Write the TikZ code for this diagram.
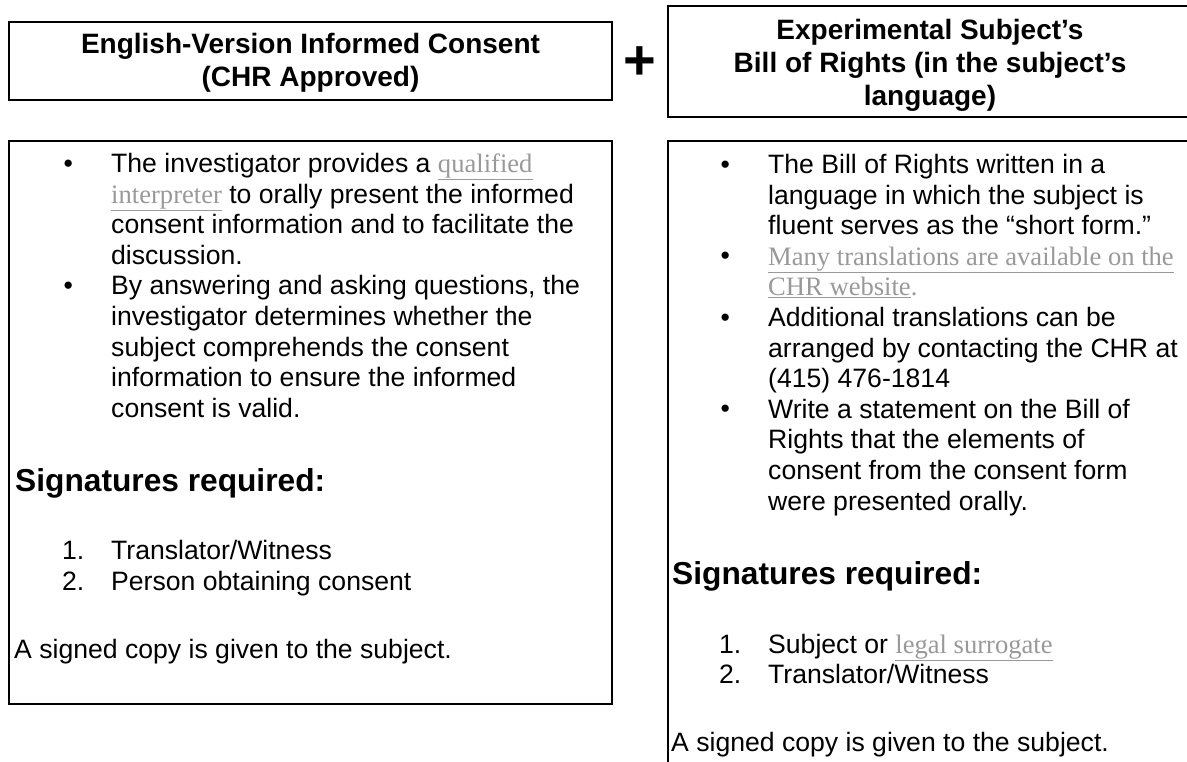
\documentclass[tikz,border=0pt]{standalone}
\usepackage{fontspec}
\setmainfont{Liberation Sans}
\newfontfamily\linkfont{Liberation Serif}
\definecolor{linkgray}{gray}{0.6}
\newcommand{\lnk}[1]{{\linkfont\color{linkgray}\underline{#1}}}
\newcommand{\bodyfont}{\fontsize{26.6}{30.6}\selectfont}
\newcommand{\headfont}{\fontsize{28}{33}\selectfont\bfseries}
\newcommand{\sigfont}{\fontsize{31.7}{36}\selectfont\bfseries}
\tikzstyle{frame}=[draw, line width=2pt]
\tikzstyle{title}=[align=center, inner sep=0pt, font=\headfont]
\tikzstyle{para}=[anchor=north west, align=left, inner sep=0pt, font=\bodyfont]
\tikzstyle{line}=[anchor=base west, inner sep=0pt, font=\bodyfont]
\tikzstyle{sig}=[anchor=base west, inner sep=0pt, font=\sigfont]

\begin{document}
\begin{tikzpicture}[x=1pt, y=-1pt]
\useasboundingbox (0,0) rectangle (1187,761);
% headers
\draw[frame] (9,22) rectangle (612,100);
\draw[frame] (668,6) rectangle (1191,117);
\node[title] (lhead) at (310.5,63) {English-Version Informed Consent\\(CHR Approved)};
\node[title] (rhead) at (930,65) {Experimental Subject’s\\Bill of Rights (in the subject’s\\language)};
\node[font=\fontsize{56}{56}\selectfont\bfseries, inner sep=0pt] (plus) at (640,63) {+};
% left panel
\draw[frame] (9,141) rectangle (612,704);
\node[line] (lb1) at (63.4,172) {•};
\node[para] (lt1) at (111,153) {The investigator provides a \lnk{qualified}\\
  \lnk{interpreter} to orally present the informed\\
  consent information and to facilitate the\\
  discussion.};
\node[line] (lb2) at (63.4,294.4) {•};
\node[para] (lt2) at (111,275.4) {By answering and asking questions, the\\
  investigator determines whether the\\
  subject comprehends the consent\\
  information to ensure the informed\\
  consent is valid.};
\node[sig] (lsig) at (15,491) {Signatures required:};
\node[line] (ln1) at (62,559) {1.};
\node[line] (ln2) at (62,590) {2.};
\node[line] (li1) at (111,559) {Translator/Witness};
\node[line] (li2) at (111,590) {Person obtaining consent};
\node[line] (lcopy) at (14,658) {A signed copy is given to the subject.};
% right panel
\draw[frame] (668,141) rectangle (1191,780);
\node[line] (rb1) at (720.4,173) {•};
\node[para] (rt1) at (768,154) {The Bill of Rights written in a\\
  language in which the subject is\\
  fluent serves as the “short form.”};
\node[line] (rb2) at (720.4,264.8) {•};
\node[para] (rt2) at (768,246.6) {\lnk{Many translations are available on the}\\
  \lnk{CHR website}{\linkfont\color{linkgray}.}};
\node[line] (rb3) at (720.4,326) {•};
\node[para] (rt3) at (768,307) {Additional translations can be\\
  arranged by contacting the CHR at\\
  (415) 476-1814};
\node[line] (rb4) at (720.4,417.8) {•};
\node[para] (rt4) at (768,398.8) {Write a statement on the Bill of\\
  Rights that the elements of\\
  consent from the consent form\\
  were presented orally.};
\node[sig] (rsig) at (672,584) {Signatures required:};
\node[line] (rn1) at (719,653) {1.};
\node[line] (rn2) at (719,683.5) {2.};
\node[line] (ri1) at (768,653) {Subject or \lnk{legal surrogate}};
\node[line] (ri2) at (768,683.5) {Translator/Witness};
\node[line] (rcopy) at (671,751) {A signed copy is given to the subject.};
\end{tikzpicture}
\end{document}
